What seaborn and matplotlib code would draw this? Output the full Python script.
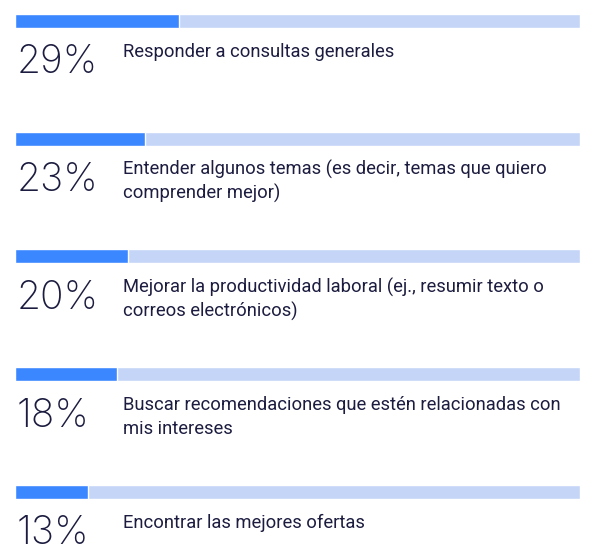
import matplotlib
matplotlib.use('Agg')
import matplotlib.pyplot as plt
import seaborn as sns
import pandas as pd

# 数据
categories = ['Responder a consultas generales',
              'Entender algunos temas (es decir, temas que quiero\ncomprender mejor)',
              'Mejorar la productividad laboral (ej., resumir texto o\ncorreos electrónicos)',
              'Buscar recomendaciones que estén relacionadas con\nmis intereses',
              'Encontrar las mejores ofertas']
values = [29, 23, 20, 18, 13]
totals = [100, 100, 100, 100, 100]

df = pd.DataFrame({'cat': categories, 'val': values, 'total': totals})

sns.set_style('white')
plt.rcParams['font.family'] = ['Inter', 'DejaVu Sans']

dark = '#3b87ff'
light = '#c4d5f7'
navy = '#1c1c40'

fig = plt.figure(figsize=(6, 5.52), dpi=100)
ax = fig.add_axes([0, 0, 1, 1])

# 背景条 + 数值条
sns.barplot(data=df, x='total', y='cat', color=light, width=0.119, saturation=1, ax=ax)
sns.barplot(data=df, x='val', y='cat', color=dark, width=0.119, saturation=1, ax=ax)

for i, (c, v) in enumerate(zip(categories, values)):
    ax.text(0.3, i + 0.445, f'{v}%', fontsize=28, fontweight='light', color=navy,
            va='baseline', ha='left')
    # 每行单独放置，行距约24px
    for j, line in enumerate(c.split('\n')):
        ax.text(19.1, i + 0.305 + j * 0.204, line, family=['Roboto', 'DejaVu Sans'],
                fontsize=13.2, color=navy, va='baseline', ha='left')

ax.set_xlim(-2.65, 103.54)
ax.set_ylim(4.51, -0.178)
ax.axis('off')

fig.savefig('out.png', dpi=100)
